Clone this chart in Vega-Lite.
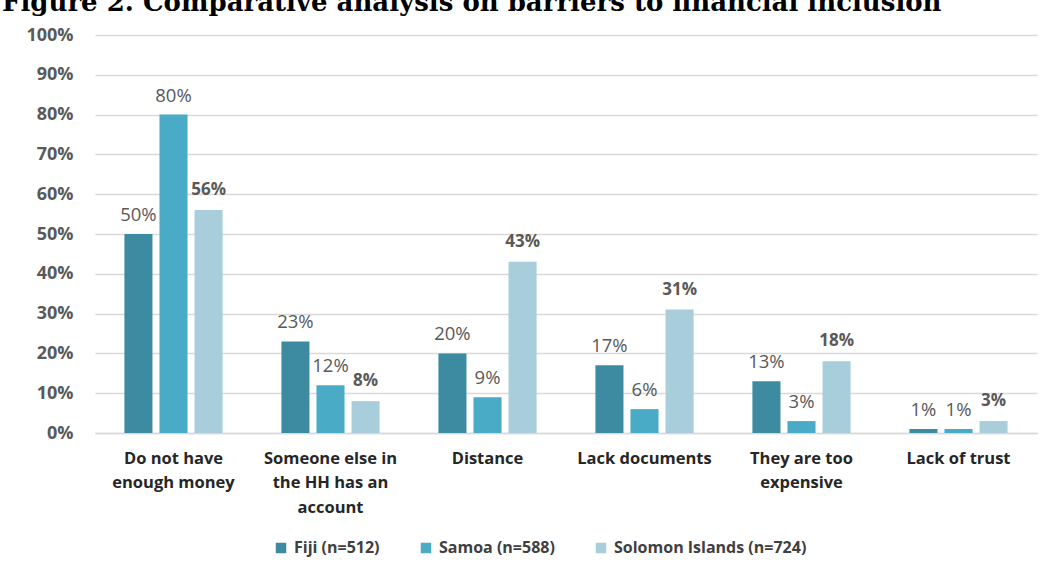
{
  "$schema": "https://vega.github.io/schema/vega-lite/v6.json",
  "width": 942,
  "height": 398,
  "autosize": {"type": "none"},
  "padding": {"left": 95, "top": 35, "right": 11, "bottom": 144},
  "background": "white",
  "title": {
    "text": "Figure 2. Comparative analysis on barriers to financial inclusion",
    "anchor": "start",
    "frame": "group",
    "dx": -93,
    "offset": 10,
    "font": "DejaVu Serif",
    "fontSize": 26,
    "fontWeight": "bold",
    "color": "#000000"
  },
  "config": {
    "view": {"stroke": null},
    "font": "Open Sans"
  },
  "data": {
    "values": [
      {"barrier": "Do not have|enough money", "country": "Fiji (n=512)", "value": 0.50},
      {"barrier": "Do not have|enough money", "country": "Samoa (n=588)", "value": 0.80},
      {"barrier": "Do not have|enough money", "country": "Solomon Islands (n=724)", "value": 0.56},
      {"barrier": "Someone else in|the HH has an|account", "country": "Fiji (n=512)", "value": 0.23},
      {"barrier": "Someone else in|the HH has an|account", "country": "Samoa (n=588)", "value": 0.12},
      {"barrier": "Someone else in|the HH has an|account", "country": "Solomon Islands (n=724)", "value": 0.08},
      {"barrier": "Distance", "country": "Fiji (n=512)", "value": 0.20},
      {"barrier": "Distance", "country": "Samoa (n=588)", "value": 0.09},
      {"barrier": "Distance", "country": "Solomon Islands (n=724)", "value": 0.43},
      {"barrier": "Lack documents", "country": "Fiji (n=512)", "value": 0.17},
      {"barrier": "Lack documents", "country": "Samoa (n=588)", "value": 0.06},
      {"barrier": "Lack documents", "country": "Solomon Islands (n=724)", "value": 0.31},
      {"barrier": "They are too|expensive", "country": "Fiji (n=512)", "value": 0.13},
      {"barrier": "They are too|expensive", "country": "Samoa (n=588)", "value": 0.03},
      {"barrier": "They are too|expensive", "country": "Solomon Islands (n=724)", "value": 0.18},
      {"barrier": "Lack of trust", "country": "Fiji (n=512)", "value": 0.01},
      {"barrier": "Lack of trust", "country": "Samoa (n=588)", "value": 0.01},
      {"barrier": "Lack of trust", "country": "Solomon Islands (n=724)", "value": 0.03}
    ]
  },
  "encoding": {
    "x": {
      "field": "barrier",
      "type": "nominal",
      "sort": null,
      "scale": {"paddingInner": 0.33, "paddingOuter": 0.165},
      "axis": {
        "title": null,
        "labelAngle": 0,
        "labelExpr": "split(datum.label, '|')",
        "labelFont": "Open Sans",
        "labelFontSize": 16.5,
        "labelFontWeight": "bold",
        "labelColor": "#262626",
        "labelPadding": 17,
        "labelLineHeight": 24.5,
        "labelBaseline": "top",
        "labelLimit": 220,
        "ticks": false,
        "domainColor": "#D9D9D9",
        "domainWidth": 1.5
      }
    },
    "xOffset": {
      "field": "country",
      "type": "nominal",
      "sort": ["Fiji (n=512)", "Samoa (n=588)", "Solomon Islands (n=724)"],
      "scale": {"paddingInner": 0.2, "paddingOuter": 0.1}
    },
    "y": {
      "field": "value",
      "type": "quantitative",
      "scale": {"domain": [0, 1], "nice": false},
      "axis": {
        "title": null,
        "values": [0, 0.1, 0.2, 0.3, 0.4, 0.5, 0.6, 0.7, 0.8, 0.9, 1.0],
        "format": ".0%",
        "labelFont": "Open Sans",
        "labelFontSize": 18,
        "labelFontWeight": "bold",
        "labelColor": "#595959",
        "labelPadding": 22,
        "ticks": false,
        "domain": false,
        "gridColor": "#D9D9D9",
        "gridWidth": 1.5
      }
    }
  },
  "layer": [
    {
      "mark": {"type": "bar"},
      "encoding": {
        "color": {
          "field": "country",
          "type": "nominal",
          "sort": ["Fiji (n=512)", "Samoa (n=588)", "Solomon Islands (n=724)"],
          "scale": {
            "domain": ["Fiji (n=512)", "Samoa (n=588)", "Solomon Islands (n=724)"],
            "range": ["#3C8BA1", "#4AABC6", "#A8CDDB"]
          },
          "legend": {
            "title": null,
            "orient": "none",
            "legendX": 178,
            "legendY": 505,
            "direction": "horizontal",
            "symbolType": "square",
            "symbolSize": 110,
            "symbolStrokeWidth": 0,
            "labelFont": "Open Sans",
            "labelFontSize": 16,
            "labelFontWeight": "bold",
            "labelColor": "#404040",
            "labelOffset": 5,
            "labelLimit": 300,
            "columnPadding": 38
          }
        }
      }
    },
    {
      "transform": [{"filter": "datum.country != 'Solomon Islands (n=724)'"}],
      "mark": {"type": "text", "baseline": "bottom", "dy": -9, "font": "Open Sans", "fontSize": 18.5, "color": "#595959"},
      "encoding": {
        "text": {"field": "value", "type": "quantitative", "format": ".0%"}
      }
    },
    {
      "transform": [{"filter": "datum.country == 'Solomon Islands (n=724)'"}],
      "mark": {"type": "text", "baseline": "bottom", "dy": -11, "font": "Open Sans", "fontSize": 17, "fontWeight": "bold", "color": "#595959"},
      "encoding": {
        "text": {"field": "value", "type": "quantitative", "format": ".0%"}
      }
    }
  ]
}
